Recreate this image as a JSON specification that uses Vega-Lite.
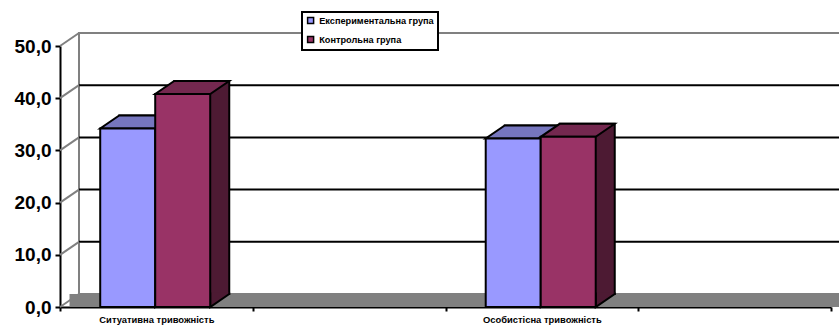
{
  "$schema": "https://vega.github.io/schema/vega-lite/v6.json",
  "width": 771,
  "height": 261,
  "autosize": {"type": "none"},
  "padding": {"left": 60, "top": 46, "right": 8, "bottom": 18},
  "background": "white",
  "datasets": {
    "scores": [
      {"category": "Ситуативна тривожність", "group": "Експериментальна група", "value": 34.2},
      {"category": "Ситуативна тривожність", "group": "Контрольна група", "value": 40.8},
      {"category": "Особистісна тривожність", "group": "Експериментальна група", "value": 32.3},
      {"category": "Особистісна тривожність", "group": "Контрольна група", "value": 32.6}
    ],
    "levels": [{"level": 0}, {"level": 10}, {"level": 20}, {"level": 30}, {"level": 40}, {"level": 50}],
    "gridLevels": [{"level": 10}, {"level": 20}, {"level": 30}, {"level": 40}],
    "wall": [{"part": "wall"}]
  },
  "resolve": {"scale": {"xOffset": "independent"}},
  "layer": [
    {
      "data": {"name": "wall"},
      "mark": {"type": "rect", "fill": "white", "stroke": "#808080", "strokeWidth": 2, "xOffset": 19, "x2Offset": 19, "yOffset": -13, "y2Offset": -13, "clip": false},
      "encoding": {
        "x": {"value": 0},
        "x2": {"value": "width"},
        "y": {"datum": 0, "type": "quantitative", "scale": {"domain": [0, 50], "nice": false}, "title": null, "axis": {"values": [0, 10, 20, 30, 40, 50], "labelExpr": "replace(format(datum.value, '.1f'), '.', ',')", "labelFontSize": 19, "tickSize": 5, "labelPadding": 4}},
        "y2": {"datum": 50}
      }
    },
    {
      "data": {"name": "gridLevels"},
      "mark": {"type": "rule", "stroke": "black", "strokeWidth": 2, "xOffset": 19, "x2Offset": 19, "yOffset": -13, "clip": false},
      "encoding": {
        "x": {"value": 0},
        "x2": {"value": "width"},
        "y": {"field": "level", "type": "quantitative", "title": null, "axis": {"values": [0, 10, 20, 30, 40, 50], "labelExpr": "replace(format(datum.value, '.1f'), '.', ',')", "labelFontSize": 19, "tickSize": 5, "labelPadding": 4}}
      }
    },
    {
      "data": {"name": "wall"},
      "mark": {"type": "rect", "fill": "#808080", "xOffset": 9.5, "x2Offset": 9.5, "y2Offset": -13, "clip": false},
      "encoding": {
        "x": {"value": 0},
        "x2": {"value": "width"},
        "y": {"datum": 0, "type": "quantitative", "title": null, "axis": {"values": [0, 10, 20, 30, 40, 50], "labelExpr": "replace(format(datum.value, '.1f'), '.', ',')", "labelFontSize": 19, "tickSize": 5, "labelPadding": 4}},
        "y2": {"datum": 0}
      }
    },
    {
      "data": {"name": "levels"},
      "mark": {"type": "rule", "stroke": "#808080", "strokeWidth": 2, "x2Offset": 19, "y2Offset": -13, "clip": false},
      "encoding": {
        "x": {"value": 0},
        "x2": {"value": 0},
        "y": {"field": "level", "type": "quantitative", "title": null, "axis": {"values": [0, 10, 20, 30, 40, 50], "labelExpr": "replace(format(datum.value, '.1f'), '.', ',')", "labelFontSize": 19, "tickSize": 5, "labelPadding": 4}},
        "y2": {"field": "level"}
      }
    },
    {
      "data": {"name": "scores"},
      "mark": {"type": "bar", "stroke": "black", "strokeWidth": 2, "strokeJoin": "miter", "yOffset": -13, "y2Offset": -13, "clip": false},
      "encoding": {
        "x": {"field": "category", "type": "nominal", "title": null, "scale": {"type": "band", "domain": ["Ситуативна тривожність", " ", "Особистісна тривожність", "  "], "paddingInner": 0, "paddingOuter": 0}, "axis": {"tickBand": "extent", "labelAngle": 0, "labelFontSize": 9.4, "tickSize": 4, "labelPadding": 4}},
        "xOffset": {"field": "group", "type": "nominal", "scale": {"type": "band", "domain": ["Експериментальна група", "Контрольна група"], "paddingInner": 0, "paddingOuter": 0.7523, "align": 0.716}},
        "y": {"field": "value", "type": "quantitative", "title": null, "axis": {"values": [0, 10, 20, 30, 40, 50], "labelExpr": "replace(format(datum.value, '.1f'), '.', ',')", "labelFontSize": 19, "tickSize": 5, "labelPadding": 4}},
        "fill": {"condition": {"test": "datum.group === 'Експериментальна група'", "value": "#4C4C80"}, "value": "#4D1A33"}
      }
    },
    {
      "data": {"name": "scores"},
      "mark": {"type": "point", "shape": "M-27.5,0L27.5,0L46.5,-13L-8.5,-13Z", "size": 4, "filled": true, "opacity": 1, "stroke": "black", "strokeWidth": 2, "strokeJoin": "miter", "clip": false},
      "encoding": {
        "x": {"field": "category", "type": "nominal", "title": null, "scale": {"type": "band"}, "axis": {"tickBand": "extent", "labelAngle": 0, "labelFontSize": 9.4, "tickSize": 4, "labelPadding": 4}},
        "xOffset": {"field": "group", "type": "nominal", "scale": {"type": "band", "domain": ["Експериментальна група", "Контрольна група"], "paddingInner": 0, "paddingOuter": 0.7523, "align": 0.486}},
        "y": {"field": "value", "type": "quantitative", "title": null, "axis": {"values": [0, 10, 20, 30, 40, 50], "labelExpr": "replace(format(datum.value, '.1f'), '.', ',')", "labelFontSize": 19, "tickSize": 5, "labelPadding": 4}},
        "fill": {"condition": {"test": "datum.group === 'Експериментальна група'", "value": "#7676BE"}, "value": "#74284F"}
      }
    },
    {
      "data": {"name": "scores"},
      "mark": {"type": "point", "shape": "M27.5,-14.5L27.5,0L46.5,-13L46.5,-14.5", "size": 4, "filled": true, "opacity": 1, "stroke": "black", "strokeWidth": 2, "strokeJoin": "miter", "clip": false},
      "encoding": {
        "x": {"field": "category", "type": "nominal", "title": null, "scale": {"type": "band"}, "axis": {"tickBand": "extent", "labelAngle": 0, "labelFontSize": 9.4, "tickSize": 4, "labelPadding": 4}},
        "xOffset": {"field": "group", "type": "nominal", "scale": {"type": "band", "domain": ["Експериментальна група", "Контрольна група"], "paddingInner": 0, "paddingOuter": 0.7523, "align": 0.486}},
        "y": {"datum": 0, "type": "quantitative", "title": null, "axis": {"values": [0, 10, 20, 30, 40, 50], "labelExpr": "replace(format(datum.value, '.1f'), '.', ',')", "labelFontSize": 19, "tickSize": 5, "labelPadding": 4}},
        "fill": {"condition": {"test": "datum.group === 'Експериментальна група'", "value": "#4C4C80"}, "value": "#4D1A33"}
      }
    },
    {
      "data": {"name": "scores"},
      "mark": {"type": "bar", "stroke": "black", "strokeWidth": 2, "strokeJoin": "miter", "clip": false},
      "encoding": {
        "x": {"field": "category", "type": "nominal", "title": null, "scale": {"type": "band"}, "axis": {"tickBand": "extent", "labelAngle": 0, "labelFontSize": 9.4, "tickSize": 4, "labelPadding": 4}},
        "xOffset": {"field": "group", "type": "nominal", "scale": {"type": "band", "domain": ["Експериментальна група", "Контрольна група"], "paddingInner": 0, "paddingOuter": 0.7523, "align": 0.486}},
        "y": {"field": "value", "type": "quantitative", "title": null, "axis": {"values": [0, 10, 20, 30, 40, 50], "labelExpr": "replace(format(datum.value, '.1f'), '.', ',')", "labelFontSize": 19, "tickSize": 5, "labelPadding": 4}},
        "color": {
          "field": "group",
          "type": "nominal",
          "scale": {"domain": ["Експериментальна група", "Контрольна група"], "range": ["#9999FF", "#993366"]},
          "legend": {
            "title": null,
            "orient": "none",
            "legendX": 242,
            "legendY": -34,
            "strokeColor": "black",
            "fillColor": "white",
            "padding": 4,
            "rowPadding": 6,
            "labelFontSize": 9.2,
            "labelFontWeight": "bold",
            "labelColor": "black",
            "labelOffset": 4,
            "symbolType": "square",
            "symbolSize": 36,
            "symbolStrokeColor": "black",
            "symbolStrokeWidth": 1.5,
            "zindex": 2
          }
        }
      }
    }
  ],
  "config": {
    "view": {"stroke": null},
    "font": "Liberation Sans",
    "axis": {"domainColor": "black", "domainWidth": 2, "tickColor": "black", "tickWidth": 2, "labelColor": "black", "labelFontWeight": "bold", "labelFont": "Liberation Sans", "grid": false, "zindex": 1},
    "legend": {"strokeWidth": 2, "labelFont": "Liberation Sans"}
  }
}
